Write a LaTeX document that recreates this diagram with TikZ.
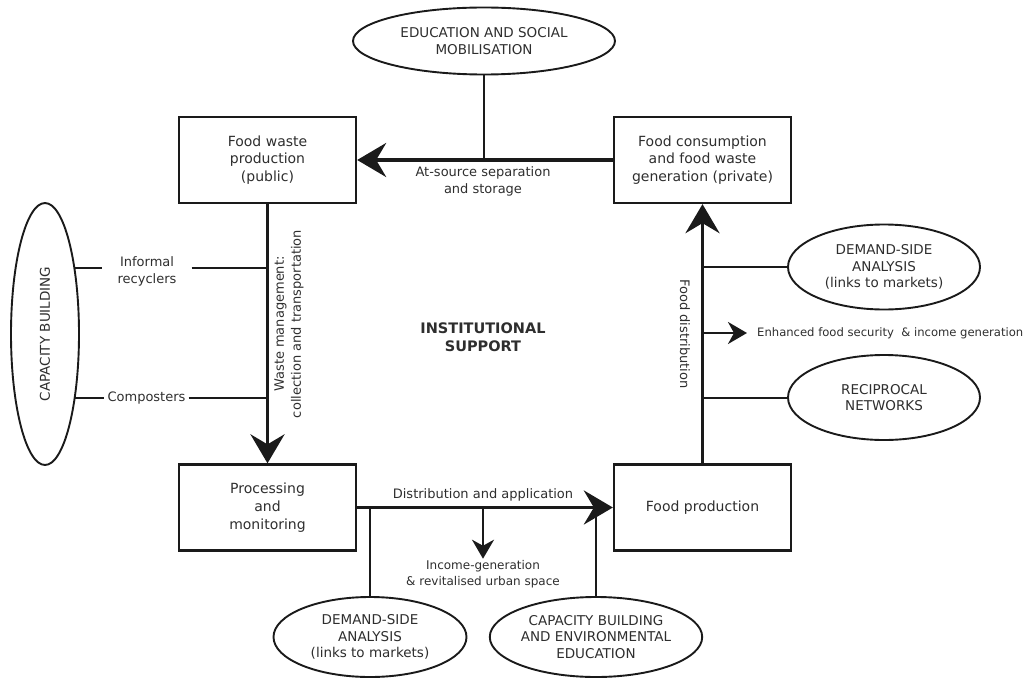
\documentclass[tikz,border=0pt]{standalone}
\usepackage{fontspec}
\setmainfont{DejaVu Sans}
\usetikzlibrary{shapes.geometric,arrows.meta}
\pgfdeclarelayer{background}
\pgfsetlayers{background,main}
\definecolor{ink}{HTML}{1A1A1A}
\definecolor{txt}{HTML}{2E2E2E}
\tikzset{
  txtfont/.style={font=\fontsize{13}{17}\selectfont, text=txt},
  stage/.style={draw=ink, line width=2.3pt, minimum width=177pt, minimum height=86pt,
    align=center, inner sep=0pt, font=\fontsize{14}{17.7}\selectfont, text=txt},
  oval/.style={draw=ink, fill=white, ellipse, line width=1.9pt, align=center,
    inner sep=0pt, font=\fontsize{13.5}{16.3}\selectfont, text=txt},
  lbl/.style={align=center, inner sep=0pt, txtfont},
  small/.style={align=center, inner sep=0pt, font=\fontsize{12}{16.5}\selectfont, text=txt},
  flow/.style={draw=ink, line width=3.8pt, -{Stealth[length=29pt,width=34pt,inset=10pt]}},
  branch/.style={draw=ink, line width=2pt},
  minor/.style={draw=ink, line width=2.4pt, -{Stealth[length=19pt,width=22pt,inset=6pt]}},
}
\begin{document}
\begin{tikzpicture}[x=1pt,y=-1pt]
\useasboundingbox (0,0) rectangle (1030,679);

% the four stages of the cycle
\node[stage] (fwp)  at (267.5,160)   {Food waste\\production\\(public)};
\node[stage] (fc)   at (702.5,160)   {Food consumption\\and food waste\\generation (private)};
\node[stage] (proc) at (267.5,507.5) {Processing\\and\\monitoring};
\node[stage] (fp)   at (702.5,507.5) {Food production};

% supporting activities
\node[oval, minimum width=262pt, minimum height=67pt] (edu) at (484,41)
  {EDUCATION AND SOCIAL\\MOBILISATION};
\node[oval, rotate=90, minimum width=262pt, minimum height=68pt] (cb) at (45,334)
  {CAPACITY BUILDING};
\node[oval, minimum width=192pt, minimum height=85pt] (dsar) at (884,267)
  {DEMAND-SIDE\\ANALYSIS\\(links to markets)};
\node[oval, minimum width=192pt, minimum height=85pt] (rec) at (884,397.5)
  {RECIPROCAL\\NETWORKS};
\node[oval, minimum width=193pt, minimum height=80pt] (dsab) at (370,637)
  {DEMAND-SIDE\\ANALYSIS\\(links to markets)};
\node[oval, minimum width=185pt, minimum height=80pt] (cbe) at (596,637)
  {CAPACITY BUILDING\\AND ENVIRONMENTAL\\EDUCATION};

% labels
\node[lbl] (sep) at (483,181) {At-source separation\\and storage};
\node[lbl, rotate=90] (wm) at (289,324) {Waste management:\\collection and transportation};
\node[lbl, rotate=-90] (fd) at (685,334) {Food distribution};
\node[lbl, inner xsep=15pt] (ir) at (147,271) {Informal\\recyclers};
\node[lbl, inner xsep=3pt] (comp) at (146.5,398) {Composters};
\node[lbl] (dist) at (483,495) {Distribution and application};
\node[small, inner ysep=1pt] (inc) at (483,574) {Income-generation\\\& revitalised urban space};
\node[small, anchor=west, inner xsep=10pt, font=\fontsize{11.6}{16}\selectfont] (enh) at (747,333)
  {Enhanced food security\ \ \& income generation};
\node[align=center, inner sep=0pt, text=txt, font=\fontsize{14.5}{18}\selectfont\bfseries]
  (inst) at (483,337) {INSTITUTIONAL\\SUPPORT};

\begin{pgfonlayer}{background}
  % main cycle
  \draw[flow] (fc.west) -- (fwp.east);
  \draw[flow] (fwp.south) -- (proc.north);
  \draw[flow] (proc.east) -- (fp.west);
  \draw[flow] (fp.north) -- (fc.south);
  % branches
  \draw[branch] (edu) -- (edu |- fc.west);
  \draw[branch] ([yshift=3pt]cb |- ir.west) -- ([yshift=3pt]ir.west);
  \draw[branch] ([yshift=3pt]ir.east) -- ([yshift=3pt]ir.east -| fwp.south);
  \draw[branch] (cb |- comp.west) -- (comp.west);
  \draw[branch] (comp.east) -- (comp.east -| fwp.south);
  \draw[branch] (dsar) -- (dsar -| fp.north);
  \draw[branch] (rec) -- (rec -| fp.north);
  \draw[branch] (dsab) -- (dsab |- proc.east);
  \draw[branch] (cbe) -- (cbe |- proc.east);
  % outcomes
  \draw[minor] (inc.north |- proc.east) -- (inc.north);
  \draw[minor] (enh.west -| fp.north) -- (enh.west);
\end{pgfonlayer}
\end{tikzpicture}
\end{document}
